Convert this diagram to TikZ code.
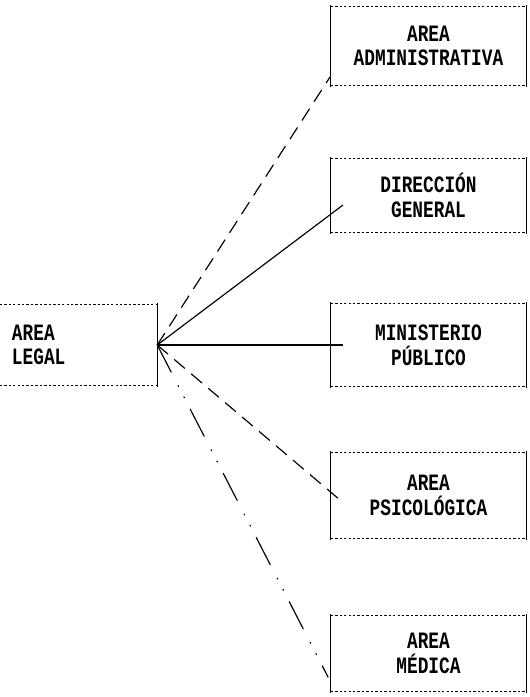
\documentclass[tikz,border=0pt]{standalone}
\usepackage{fontspec}
\usepackage{tikz}
\usetikzlibrary{positioning,calc}
\newfontfamily\typefont[FakeStretch=0.76]{Liberation Mono}

\tikzset{
    unitbox/.style={minimum width=5.85cm, align=center, inner sep=0pt,
        font=\typefont\bfseries\fontsize{20}{21}\selectfont},
    legalbox/.style={minimum width=4.71cm, minimum height=2.4cm, text width=3.99cm,
        inner xsep=0.36cm, align=left, font=\typefont\bfseries\fontsize{20}{21}\selectfont},
    sideline/.style={line width=0.9pt, shorten <=-1.5pt, shorten >=-1.5pt},
    edgeline/.style={line width=0.5pt, dash pattern=on 2pt off 1.8pt},
    link/.style={line width=1pt},
    linkdash/.style={link, dash pattern=on 12pt off 7pt},
    linkdashdot/.style={link, line cap=round, dash pattern=on 26pt off 13pt on 0.8pt off 10pt on 0.8pt off 11pt}
}

\begin{document}
\begin{tikzpicture}[x=0.03cm, y=-0.03cm]
    \useasboundingbox (0,0) rectangle (529,697);

    % Units on the right
    \node[unitbox, minimum height=2.34cm] (admin) at (428.5,46) {AREA\\ADMINISTRATIVA};
    \node[unitbox, minimum height=2.19cm] (dir) at (428.5,195.5) {DIRECCIÓN\\GENERAL};
    \node[unitbox, minimum height=2.46cm] (min) at (428.5,345) {MINISTERIO\\PÚBLICO};
    \node[unitbox, minimum height=2.55cm] (psico) at (428.5,495.5) {AREA\\PSICOLÓGICA};
    \node[unitbox, minimum height=2.25cm] (med) at (428.5,653.5) {AREA\\MÉDICA};

    \foreach \b in {admin,dir,min,psico,med} {
        \draw[sideline] (\b.north west) -- (\b.south west);
        \draw[sideline] (\b.north east) -- (\b.south east);
        \draw[edgeline] (\b.north west) -- (\b.north east);
        \draw[edgeline] (\b.south west) -- (\b.south east);
    }

    % Legal area, cut at the left edge
    \node[legalbox] (legal) at (78.5,345) {AREA\\LEGAL};
    \draw[sideline] (legal.north east) -- (legal.south east);
    \draw[edgeline] (legal.north west) -- (legal.north east);
    \draw[edgeline] (legal.south west) -- (legal.south east);

    % Line ends
    \coordinate (endadmin) at (330,77);
    \coordinate (enddir) at (343,205);
    \coordinate (endmin) at (343,345);
    \coordinate (endpsico) at (340,500);
    \coordinate (endmed) at (328,677);

    % Links
    \draw[linkdash] (legal.east) -- (endadmin);
    \draw[link] (legal.east) -- (enddir);
    \draw[link] (legal.east) -- (endmin);
    \draw[linkdash] (legal.east) -- (endpsico);
    \draw[linkdashdot] (legal.east) -- (endmed);
\end{tikzpicture}
\end{document}
